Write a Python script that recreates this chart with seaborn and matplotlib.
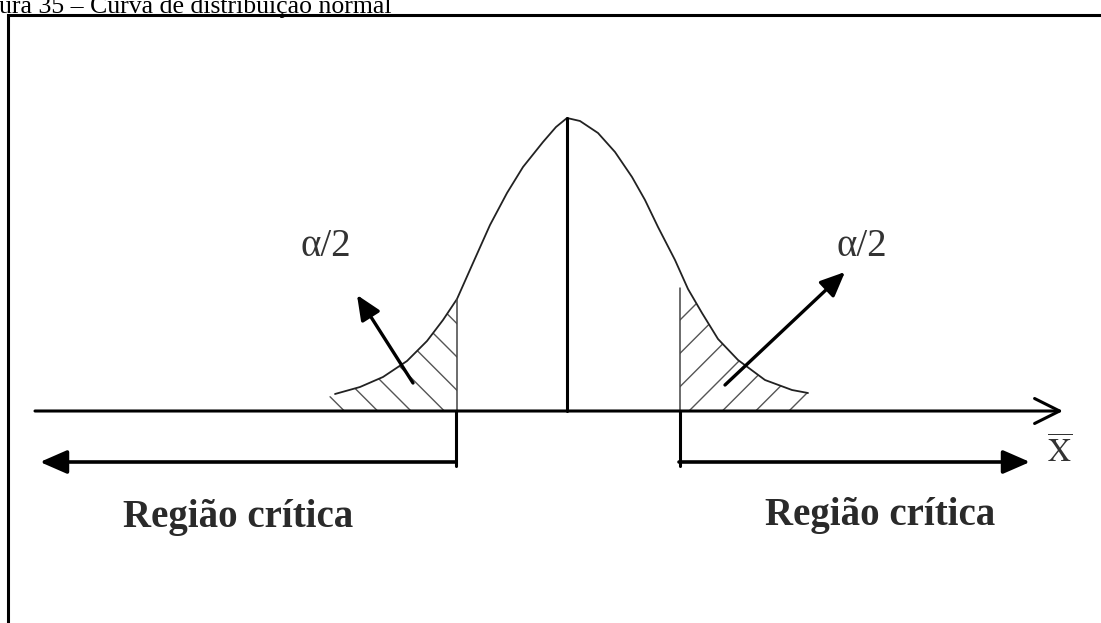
import matplotlib
matplotlib.use("Agg")
import matplotlib.pyplot as plt
import seaborn as sns

# picture coordinates (x to the right, y downwards)
curve_x = [335, 360, 383, 407, 427, 443, 457, 473, 490, 507, 523, 543, 556, 567,
           580, 598, 615, 632, 645, 658, 675, 688, 702, 718, 738, 765, 792, 808]
curve_y = [394, 387, 377, 361, 341, 320, 299, 263, 225, 193, 167, 142, 127, 118,
           121, 133, 152, 177, 200, 227, 260, 289, 313, 339, 360, 380, 390, 393]

axis_y = 411
axis_start, axis_end = 35, 1063
center_x = 567
left_crit, right_crit = 457, 680
left_crit_top, right_crit_top = 299, 288
region_arrow_y = 462
region_arrow_tips = [40, 1030]

alpha_arrow_tails = [(413, 383), (725, 385)]
alpha_arrow_tips = [(357, 295), (845, 272)]
alpha_labels = ["α/2", "α/2"]
alpha_label_pos = [(326, 246), (862, 246)]

region_labels = ["Região crítica", "Região crítica"]
region_label_pos = [(238, 518), (880, 515)]

caption = "ura 35 – Curva de distribuição normal"

sns.set_style("white")
plt.rcParams['font.family'] = ['Liberation Serif', 'DejaVu Serif']
plt.rcParams['mathtext.fontset'] = 'stix'
plt.rcParams['hatch.linewidth'] = 1.0

fig = plt.figure(figsize=(11.01, 6.23), dpi=100)
ax = fig.add_axes([0, 0, 1, 1])
ax.set_xlim(0, 1101)
ax.set_ylim(623, 0)
ax.set_axis_off()

# frame around the figure
ax.plot([7.5, 7.5, 1101], [623, 14.5, 14.5], color='black', lw=2.2, solid_joinstyle='miter')
ax.text(-1, 12.5, caption, fontsize=18.5, va='baseline', ha='left', color='black')

# hatched tails
left_x = [x for x in curve_x if x <= left_crit]
left_y = curve_y[:len(left_x)]
right_x = [x for x in curve_x if x >= right_crit]
right_y = curve_y[len(curve_x) - len(right_x):]
ax.fill_between([322] + left_x + [left_crit], [400] + left_y + [left_crit_top], axis_y,
                facecolor='none', edgecolor='#555555', hatch='\\', lw=0)
ax.fill_between([right_crit] + right_x + [822], [right_crit_top] + right_y + [398], axis_y,
                facecolor='none', edgecolor='#555555', hatch='/', lw=0)

# the curve
sns.lineplot(x=curve_x, y=curve_y, sort=False, ax=ax, color='#222222', lw=1.3)

# verticals
ax.plot([center_x, center_x], [118, axis_y], color='black', lw=2.2)
ax.plot([left_crit, left_crit], [left_crit_top, axis_y], color='#444444', lw=1.1)
ax.plot([right_crit, right_crit], [right_crit_top, axis_y], color='#444444', lw=1.1)
ax.plot([left_crit - 1, left_crit - 1], [axis_y, region_arrow_y + 4], color='black', lw=2.2)
ax.plot([right_crit, right_crit], [axis_y, region_arrow_y + 4], color='black', lw=2.2)

# horizontal axis with open head
ax.annotate('', xy=(axis_end, axis_y), xytext=(axis_start, axis_y),
            arrowprops=dict(arrowstyle='->,head_length=0.6,head_width=0.3', lw=2.2,
                            color='black', mutation_scale=30, shrinkA=0, shrinkB=0))
ax.text(1060, 453, r'$\overline{\mathrm{X}}$', fontsize=23, ha='center', va='center', color='#333333')

# critical region arrows
ax.annotate('', xy=(region_arrow_tips[0], region_arrow_y), xytext=(left_crit - 2, region_arrow_y),
            arrowprops=dict(arrowstyle='-|>,head_length=0.55,head_width=0.24', lw=2.6,
                            color='black', mutation_scale=30, shrinkA=0, shrinkB=0))
ax.annotate('', xy=(region_arrow_tips[1], region_arrow_y), xytext=(right_crit - 1, region_arrow_y),
            arrowprops=dict(arrowstyle='-|>,head_length=0.55,head_width=0.24', lw=2.6,
                            color='black', mutation_scale=30, shrinkA=0, shrinkB=0))

# alpha/2 arrows and labels
for tail, tip in zip(alpha_arrow_tails, alpha_arrow_tips):
    ax.annotate('', xy=tip, xytext=tail,
                arrowprops=dict(arrowstyle='-|>,head_length=0.5,head_width=0.22', lw=2.4,
                                color='black', mutation_scale=30, shrinkA=0, shrinkB=0))
for lab, (x, y) in zip(alpha_labels, alpha_label_pos):
    ax.text(x, y, lab, fontsize=28, ha='center', va='center', color='#333333')

for lab, (x, y) in zip(region_labels, region_label_pos):
    ax.text(x, y, lab, fontsize=28, fontweight='bold', ha='center', va='center', color='#2a2a2a')

fig.savefig('out.png', dpi=100)
